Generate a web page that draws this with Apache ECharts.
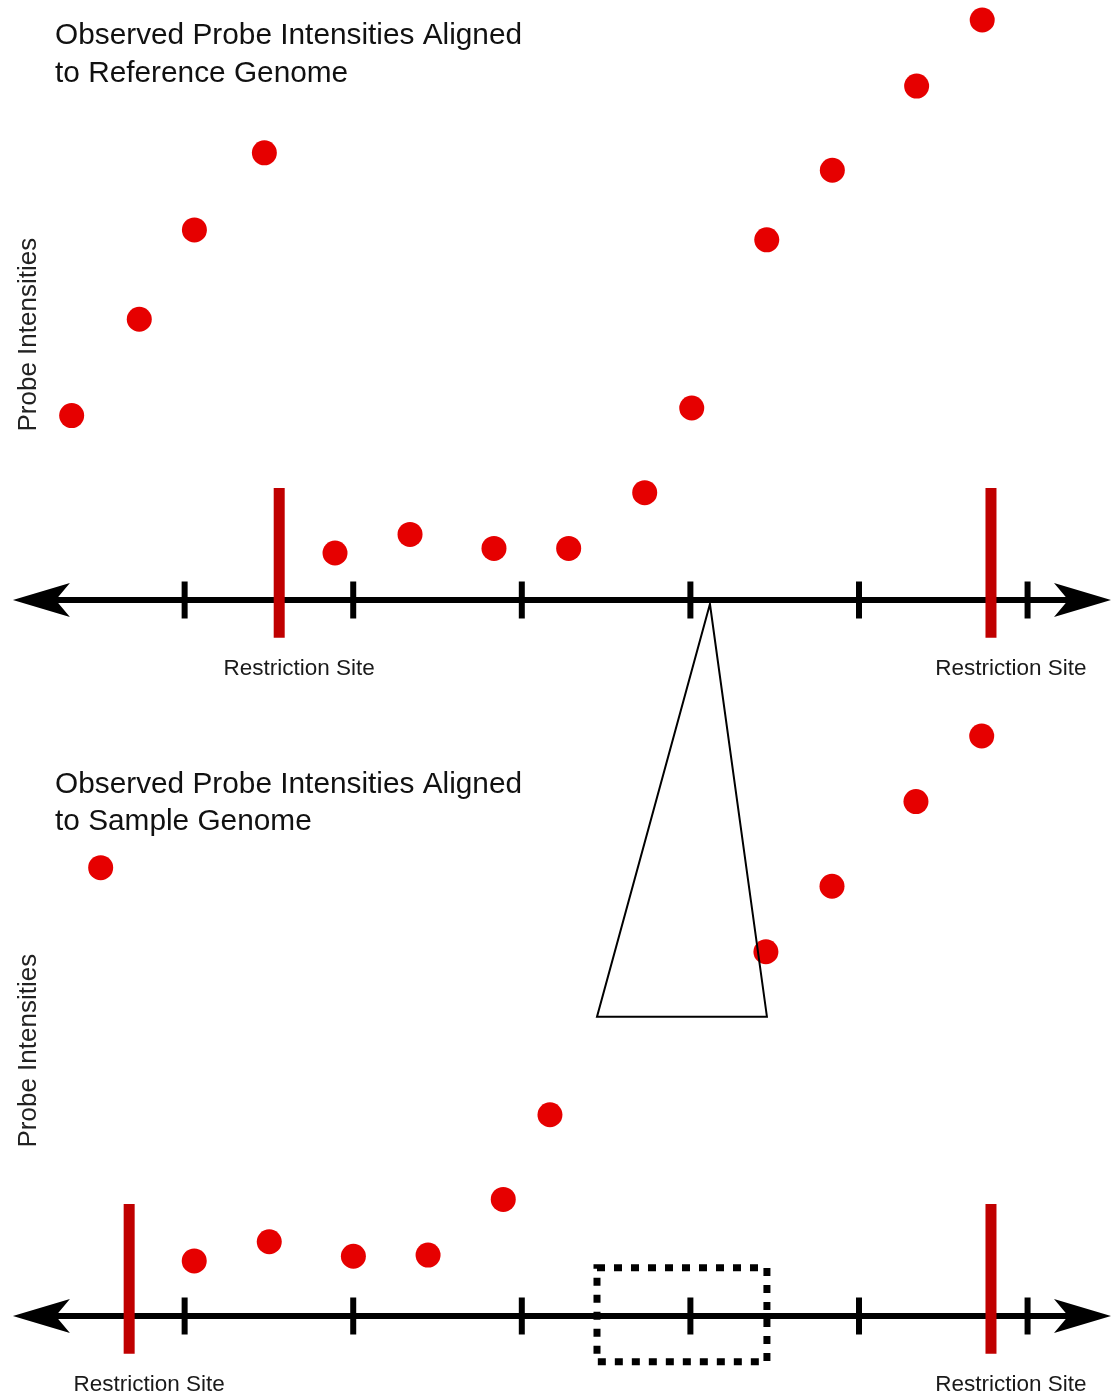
<!DOCTYPE html>
<html><head><meta charset="utf-8">
<script src="https://cdn.jsdelivr.net/npm/echarts@6/dist/echarts.min.js"></script>
<style>html,body{margin:0;padding:0;background:#fff}#c{width:1111px;height:1395px}</style>
</head><body><div id="c"></div>
<script>
// ---- data ----
const tickPositions = [1, 2, 3, 4, 5, 6];
const refX = [0.330, 0.731, 1.058, 1.473, 1.892, 2.337, 2.835, 3.278, 3.729, 4.008, 4.453, 4.842, 5.342, 5.731];
const refY = [3.18, 4.84, 6.38, 7.71, 0.81, 1.13, 0.89, 0.89, 1.85, 3.31, 6.21, 7.41, 8.86, 10.0];
const sampleX = [0.502, 1.057, 1.502, 2.001, 2.444, 2.890, 3.167, 4.448, 4.840, 5.338, 5.728];
const sampleY = [7.73, 0.95, 1.28, 1.03, 1.05, 2.01, 3.47, 6.28, 7.41, 8.87, 10.0];
const refSites = [1.561, 5.783];
const sampleSites = [0.671, 5.783];
const siteSpan = [1.93, -0.65];
const siteLabel = 'Restriction Site';
const titles = ['Observed Probe Intensities Aligned\nto Reference Genome',
                'Observed Probe Intensities Aligned\nto Sample Genome'];
const yName = 'Probe Intensities';
const zoomWindowX = [3.446, 4.454];
const zoomWindowY = [0.83, -0.79];
const zoomApex = [4.116, -0.07];   // point on the reference axis
const zoomBaseY = 5.16;            // base height in the sample panel

const FONT = '"Liberation Sans", Arial, Helvetica, sans-serif';
const chart = echarts.init(document.getElementById('c'), null, {renderer: 'canvas'});

function xAxisCfg(i) {
  return {
    type: 'value', gridIndex: i, min: 0.1, max: 6.4,
    axisLine: {onZero: true, lineStyle: {color: '#000', width: 6},
      symbol: ['arrow', 'arrow'], symbolSize: [25.5, 57], symbolOffset: [-20, 16]},
    axisTick: {show: false}, axisLabel: {show: false}, splitLine: {show: false}
  };
}
function yAxisCfg(i) {
  return {
    type: 'value', gridIndex: i, min: -0.85, max: 10, offset: -20,
    name: yName, nameLocation: 'middle', nameRotate: 90, nameGap: 11,
    nameTextStyle: {fontSize: 26, color: '#222', fontFamily: FONT},
    axisLine: {show: false}, axisTick: {show: false}, axisLabel: {show: false}, splitLine: {show: false}
  };
}
function tickSeries(i) {
  return {type: 'scatter', xAxisIndex: i, yAxisIndex: i, silent: true, z: 3,
    symbol: 'rect', symbolSize: [6, 37], itemStyle: {color: '#000', opacity: 1},
    data: tickPositions.map(t => [t, 0])};
}
function siteSeries(i, sites) {
  return {type: 'custom', xAxisIndex: i, yAxisIndex: i, silent: true, z: 4,
    data: sites.map(s => [s, siteSpan[0], siteSpan[1]]),
    renderItem: function (params, api) {
      const p1 = api.coord([api.value(0), api.value(1)]);
      const p2 = api.coord([api.value(0), api.value(2)]);
      return {type: 'group', children: [
        {type: 'rect', shape: {x: p1[0] - 5.5, y: p1[1], width: 11, height: p2[1] - p1[1]},
          style: {fill: '#c00000'}},
        {type: 'text', x: p1[0] + 20, y: p2[1] + 31,
          style: {text: siteLabel, fontSize: 22.5, fontFamily: FONT, fill: '#1a1a1a',
            align: 'center', verticalAlign: 'middle'}}
      ]};
    }};
}
function pointSeries(i, xs, ys) {
  return {type: 'scatter', xAxisIndex: i, yAxisIndex: i, z: 5, symbolSize: 25,
    itemStyle: {color: '#e60000', opacity: 1},
    data: xs.map((x, k) => [x, ys[k]])};
}

chart.setOption({
  animation: false,
  backgroundColor: '#fff',
  title: titles.map((t, i) => ({
    text: t, left: 55, top: i === 0 ? 17.5 : 766, padding: 0,
    textStyle: {fontSize: 29.8, lineHeight: 37.5, fontWeight: 'normal', color: '#111', fontFamily: FONT}
  })),
  grid: [
    {left: 32.9, right: 16, top: 20, height: 629.3},
    {left: 32.9, right: 16, top: 736, height: 629.3}
  ],
  xAxis: [xAxisCfg(0), xAxisCfg(1)],
  yAxis: [yAxisCfg(0), yAxisCfg(1)],
  series: [
    tickSeries(0), tickSeries(1),
    siteSeries(0, refSites), siteSeries(1, sampleSites),
    pointSeries(0, refX, refY), pointSeries(1, sampleX, sampleY),
    {type: 'custom', xAxisIndex: 1, yAxisIndex: 1, silent: true, z: 6,
      data: [[zoomWindowX[0], zoomWindowX[1], zoomWindowY[0], zoomWindowY[1]]],
      renderItem: function (params, api) {
        const a = api.coord([api.value(0), api.value(2)]);
        const b = api.coord([api.value(1), api.value(3)]);
        return {type: 'rect', shape: {x: a[0], y: a[1], width: b[0] - a[0], height: b[1] - a[1]},
          style: {fill: null, stroke: '#000', lineWidth: 7, lineDash: [8, 9], lineCap: 'butt'}};
      }}
  ]
});

const apex = chart.convertToPixel({gridIndex: 0}, zoomApex);
const baseL = chart.convertToPixel({gridIndex: 1}, [zoomWindowX[0], zoomBaseY]);
const baseR = chart.convertToPixel({gridIndex: 1}, [zoomWindowX[1], zoomBaseY]);
chart.setOption({graphic: [{type: 'polygon', z: 10, silent: true,
  shape: {points: [apex, baseL, baseR]},
  style: {fill: null, stroke: '#000', lineWidth: 2}}]});
</script></body></html>
